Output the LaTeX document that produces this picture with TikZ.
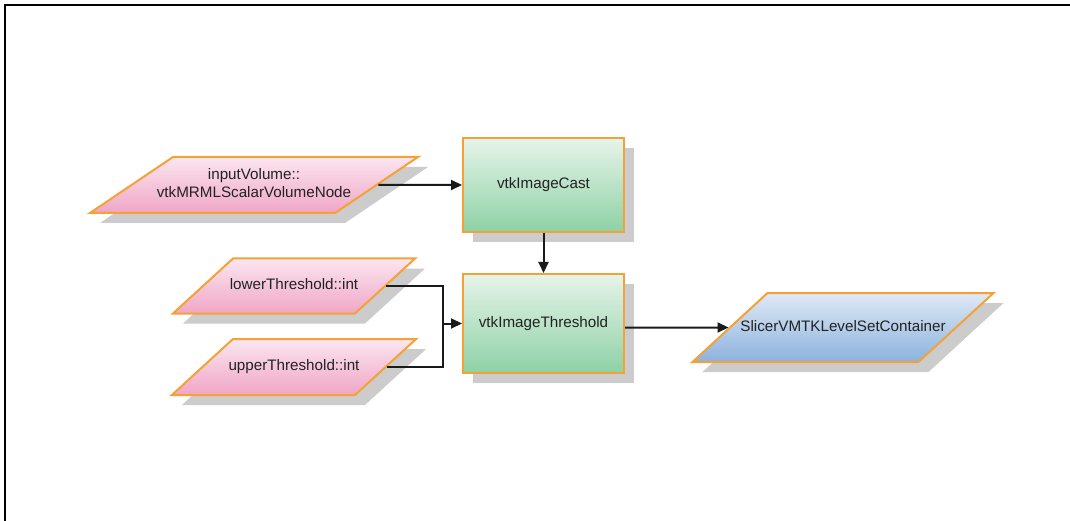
\documentclass[tikz,border=0pt]{standalone}
\usepackage{fontspec}
\setmainfont{Liberation Sans}
\usetikzlibrary{shapes.geometric,shadows,arrows.meta}
\definecolor{bord}{HTML}{F4A236}
\definecolor{pinkT}{HTML}{FBE6F0}
\definecolor{pinkB}{HTML}{F0A6C6}
\definecolor{greenT}{HTML}{E6F4EA}
\definecolor{greenB}{HTML}{8ED1A5}
\definecolor{blueT}{HTML}{DFE9F5}
\definecolor{blueB}{HTML}{8CB2DE}
\definecolor{shad}{HTML}{CCCCCC}
\definecolor{txt}{HTML}{222222}
\definecolor{wire}{HTML}{1A1A1A}
\newcommand{\pbox}[3]{\parbox[c][#2pt][c]{#1pt}{\centering\makebox[0pt][c]{\begin{tabular}{@{}c@{}}#3\end{tabular}}}}
\tikzset{
  base/.style={draw=bord, line width=2pt, inner sep=0pt, text=txt,
    font=\fontsize{15.2}{17.5}\selectfont, align=center,
    drop shadow={shadow xshift=10pt, shadow yshift=-10pt, fill=shad, opacity=1}},
  para/.style={base, trapezium},
  proc/.style={base, rectangle, top color=greenT, bottom color=greenB},
  pinkfill/.style={top color=pinkT, bottom color=pinkB},
  bluefill/.style={top color=blueT, bottom color=blueB},
  wireline/.style={draw=wire, line width=2pt},
  arr/.style={wireline, -{Triangle[length=11pt,width=10pt]}}
}
\begin{document}
\begin{tikzpicture}[x=1pt,y=-1pt]
\useasboundingbox (0,0) rectangle (1070,521);
\fill[white] (0,0) rectangle (1070,521);
\draw[line width=1.5pt] (5,521) -- (5,5) -- (1070,5);

\node[para, pinkfill, trapezium left angle=34, trapezium right angle=146] (in) at (254,185)
  {\pbox{162}{56}{inputVolume::\\vtkMRMLScalarVolumeNode}};
\node[para, pinkfill, trapezium left angle=42.5, trapezium right angle=137.5] (lo) at (294,286)
  {\pbox{122}{55}{lowerThreshold::int}};
\node[para, pinkfill, trapezium left angle=42.5, trapezium right angle=137.5] (up) at (294,367)
  {\pbox{122}{56}{upperThreshold::int}};
\node[proc, minimum width=161pt, minimum height=94pt] (cast) at (543.5,185) {vtkImageCast};
\node[proc, minimum width=161pt, minimum height=99pt] (thr) at (543.5,323.5) {vtkImageThreshold};
\node[para, bluefill, trapezium left angle=42.6, trapezium right angle=137.4] (out) at (843,327.5)
  {\pbox{151}{69}{SlicerVMTKLevelSetContainer}};

\coordinate (j) at (443,323.5);
\draw[arr] (in) -- (cast);
\draw[arr] (cast) -- (thr);
\draw[arr] (thr.east |- out) -- (out);
\draw[wireline] (lo.east) -- (lo.east -| j) -- (up.east -| j) -- (up.east);
\draw[arr] (j) -- (thr.west);
\end{tikzpicture}
\end{document}
